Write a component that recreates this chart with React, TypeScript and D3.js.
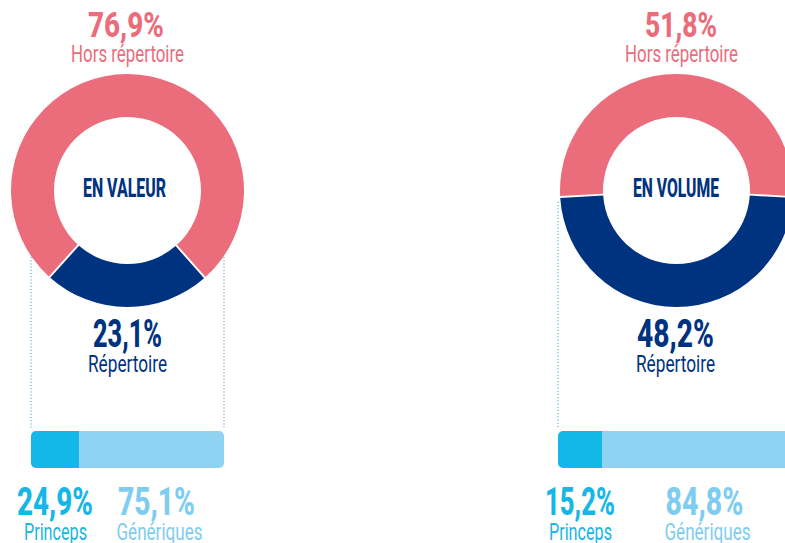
import React from "react";
import * as d3 from "d3";

// ---------- data ----------
const panelTitles = ["EN VALEUR", "EN VOLUME"];
const horsRepertoireShare = [76.9, 51.8];
const repertoireShare = [23.1, 48.2];
const princepsShare = [24.9, 15.2];
const generiquesShare = [75.1, 84.8];
const donutLabels = ["Hors répertoire", "Répertoire"];
const barLabels = ["Princeps", "Génériques"];

// ---------- style / layout ----------
const W = 785;
const H = 543;
const PINK = "#EB6C7B";
const NAVY = "#00337F";
const CYAN = "#13B8E8";
const LIGHT = "#8ED3F1";
const CYAN_TEXT = "#16B6E6";
const LIGHT_TEXT = "#7ECDF0";
const DOT = "#4FA3C6";
const FONT = "Roboto, 'DejaVu Sans', sans-serif";

const layout = [
  {
    cx: 127.5, cy: 190.5,
    barRange: [31, 224],
    dotted: [[31, 257], [224, 257]],
    horsPctX: 126, horsLblX: 127.5, titleX: 124.5, repPctX: 127.5, repLblX: 127.5,
    horsPctW: 76, titleW: 83, repPctW: 69,
    princepsX: 55, genX: 158, princepsPctW: 76, genPctW: 77,
  },
  {
    cx: 676.5, cy: 190.5,
    barRange: [558, 851],
    dotted: [[558, 202]],
    horsPctX: 681, horsLblX: 681.5, titleX: 676, repPctX: 675.5, repLblX: 675.5,
    horsPctW: 72, titleW: 86, repPctW: 77,
    princepsX: 580, genX: 706, princepsPctW: 70, genPctW: 78,
  },
];
const R_OUT = 116.5;
const R_IN = 73.5;
const BAR_Y = 431;
const BAR_H = 37;
const DOT_BOTTOM = 428;

const fmt = (v: number) => d3.format(".1f")(v).replace(".", ",") + "%";

function T({ x, y, w, size, weight, fill, children }: any) {
  return (
    <text
      x={x - w / 2}
      y={y}
      textLength={w}
      lengthAdjust="spacingAndGlyphs"
      fontFamily={FONT}
      fontSize={size}
      fontWeight={weight}
      fill={fill}
    >
      {children}
    </text>
  );
}

function Panel({ i }: { i: number }) {
  const L = layout[i];
  const rep = repertoireShare[i];
  const hors = horsRepertoireShare[i];
  const repSpan = (2 * Math.PI * rep) / (rep + hors);
  const start = Math.PI - repSpan / 2;
  const pie = d3
    .pie<number>()
    .sort(null)
    .value((d) => d)
    .startAngle(start)
    .endAngle(start + 2 * Math.PI)
    .padAngle(0.014);
  const arcs = pie([rep, hors]);
  const arc = d3.arc<d3.PieArcDatum<number>>().innerRadius(R_IN).outerRadius(R_OUT);
  const colors = [NAVY, PINK];

  const x = d3
    .scaleLinear()
    .domain([0, princepsShare[i] + generiquesShare[i]])
    .range(L.barRange);
  const clipId = `barclip${i}`;

  return (
    <g>
      {L.dotted.map(([dx, dy], k) => (
        <line
          key={k}
          x1={dx}
          x2={dx}
          y1={dy}
          y2={DOT_BOTTOM}
          stroke={DOT}
          strokeWidth={1.2}
          strokeDasharray="1 2.2"
        />
      ))}
      <g transform={`translate(${L.cx},${L.cy})`}>
        {arcs.map((a, k) => (
          <path key={k} d={arc(a) || ""} fill={colors[k]} />
        ))}
      </g>
      <T x={L.horsPctX} y={36.5} w={L.horsPctW} size={35} weight={800} fill={PINK}>
        {fmt(hors)}
      </T>
      <T x={L.horsLblX} y={62} w={113} size={24} weight={400} fill={PINK}>
        {donutLabels[0]}
      </T>
      <T x={L.titleX} y={197} w={L.titleW} size={25} weight={800} fill={NAVY}>
        {panelTitles[i]}
      </T>
      <T x={L.repPctX} y={347} w={L.repPctW} size={38} weight={800} fill={NAVY}>
        {fmt(rep)}
      </T>
      <T x={L.repLblX} y={371.5} w={79} size={23.5} weight={400} fill={NAVY}>
        {donutLabels[1]}
      </T>
      <defs>
        <clipPath id={clipId}>
          <rect
            x={L.barRange[0]}
            y={BAR_Y}
            width={L.barRange[1] - L.barRange[0]}
            height={BAR_H}
            rx={5}
            ry={5}
          />
        </clipPath>
      </defs>
      <g clipPath={`url(#${clipId})`}>
        <rect x={x(0)} y={BAR_Y} width={x(princepsShare[i]) - x(0)} height={BAR_H} fill={CYAN} />
        <rect
          x={x(princepsShare[i])}
          y={BAR_Y}
          width={x(princepsShare[i] + generiquesShare[i]) - x(princepsShare[i])}
          height={BAR_H}
          fill={LIGHT}
        />
      </g>
      <T x={L.princepsX} y={515} w={L.princepsPctW} size={39} weight={800} fill={CYAN_TEXT}>
        {fmt(princepsShare[i])}
      </T>
      <T x={L.princepsX + 0.5} y={539.5} w={63} size={24} weight={400} fill={CYAN_TEXT}>
        {barLabels[0]}
      </T>
      <T x={L.genX - 1.5} y={515} w={L.genPctW} size={39} weight={800} fill={LIGHT_TEXT}>
        {fmt(generiquesShare[i])}
      </T>
      <T x={L.genX + 1.5} y={539.5} w={86} size={24} weight={400} fill={LIGHT_TEXT}>
        {barLabels[1]}
      </T>
    </g>
  );
}

export default function App() {
  return (
    <svg
      width={W}
      height={H}
      viewBox={`0 0 ${W} ${H}`}
      style={{ position: "absolute", left: 0, top: 0, background: "#fff" }}
    >
      <rect width={W} height={H} fill="#fff" />
      {panelTitles.map((_, i) => (
        <Panel key={i} i={i} />
      ))}
    </svg>
  );
}
